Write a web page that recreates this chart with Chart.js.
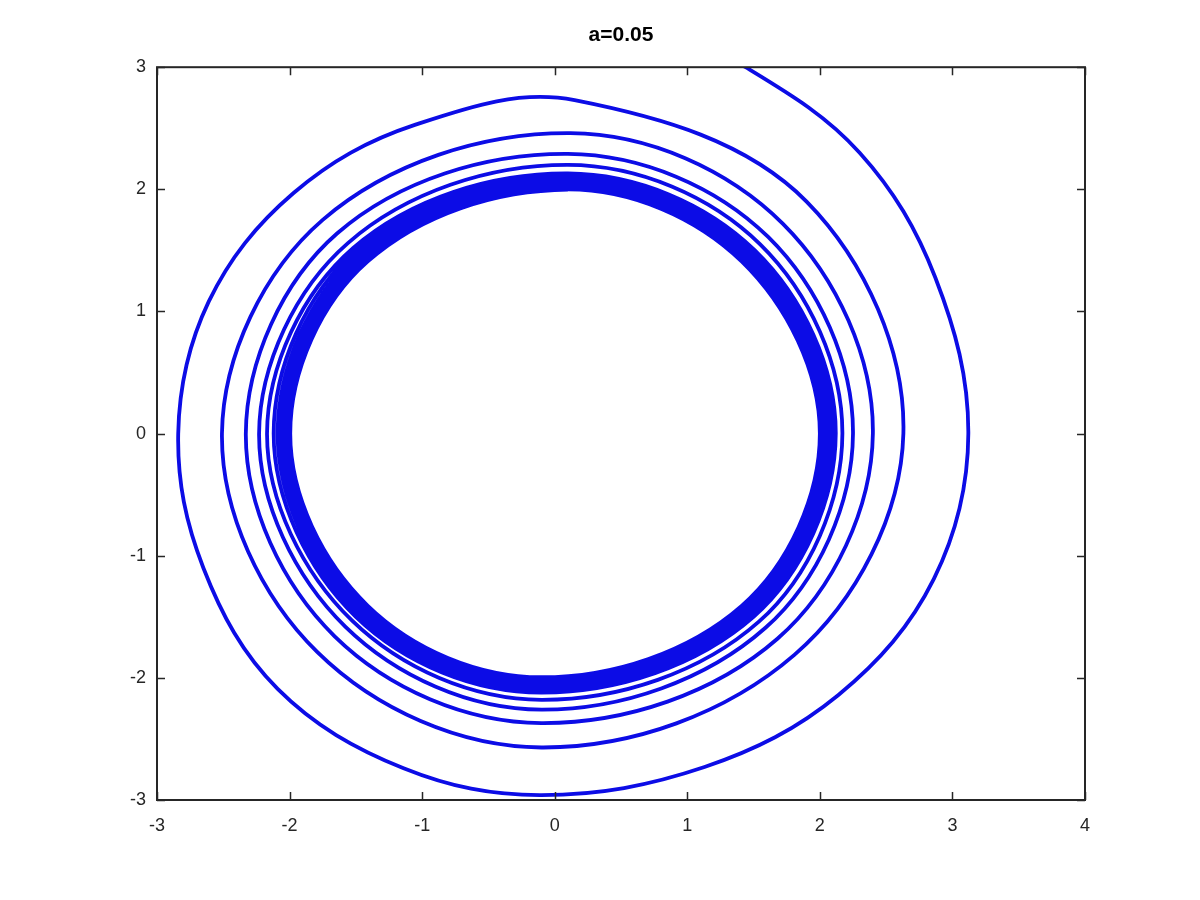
<!doctype html>
<html lang="en">
<head>
    <meta charset="utf-8">
    <title>a=0.05</title>
    <script src="https://cdn.jsdelivr.net/npm/chart.js@4.4.1/dist/chart.umd.min.js"></script>
    <style>
        body { margin: 0; background: #fff; }
        #wrap { width: 1200px; height: 900px; }
    </style>
</head>
<body>
    <div id="wrap">
        <canvas id="myChart" width="1200" height="900"></canvas>
    </div>

    <script>
        var titleText = 'a=0.05';
        var xTicks = [-3, -2, -1, 0, 1, 2, 3, 4];
        var yTicks = [-3, -2, -1, 0, 1, 2, 3];

        // first turn, coming in from above the box
        var entryArc = [
            [0.6, 3.42], [1.44, 3.0], [2.30, 2.30], [2.87, 1.28], [3.12, 0.0],
            [2.86, -1.19], [2.14, -2.14], [1.13, -2.73], [-0.1, -2.96], [-1.14, -2.74],
            [-2.09, -2.09], [-2.65, -1.10], [-2.84, 0.0], [-2.61, 1.08], [-1.97, 1.97], [-1.05, 2.53]
        ];

        // loops still apart from each other (top, UR, right, LR, bottom, LL, left, UL)
        var outerLoops = [
            [0.15, 2.73], [1.90, 1.90], [2.63, 0], [1.81, -1.81], [-0.1, -2.57], [-1.79, -1.79], [-2.51, 0], [-1.75, 1.75],
            [0.12, 2.46], [1.72, 1.72], [2.40, 0], [1.68, -1.68], [-0.1, -2.37], [-1.66, -1.66], [-2.33, 0], [-1.64, 1.64],
            [0.1, 2.29], [1.61, 1.61], [2.25, 0], [1.59, -1.59], [-0.1, -2.26], [-1.58, -1.58], [-2.23, 0], [-1.56, 1.56],
            [0.1, 2.20], [1.55, 1.55], [2.17, 0], [1.54, -1.54], [-0.1, -2.18], [-1.53, -1.53], [-2.17, 0], [-1.52, 1.52]
        ];

        // dense band near the limit cycle
        var innerLoops = [
            [0.1, 2.13], [1.51, 1.50], [2.12, 0], [1.50, -1.50], [-0.1, -2.12], [-1.50, -1.50], [-2.12, 0], [-1.50, 1.50],
            [0.1, 2.10], [1.49, 1.48], [2.10, 0], [1.48, -1.48], [-0.1, -2.09], [-1.48, -1.48], [-2.09, 0], [-1.48, 1.48],
            [0.1, 2.08], [1.47, 1.47], [2.08, 0], [1.47, -1.47], [-0.1, -2.07], [-1.47, -1.46], [-2.07, 0], [-1.46, 1.46],
            [0.1, 2.06], [1.46, 1.45], [2.06, 0], [1.45, -1.45], [-0.1, -2.05], [-1.45, -1.45], [-2.05, 0], [-1.45, 1.45],
            [0.1, 2.05], [1.45, 1.44], [2.05, 0], [1.44, -1.44], [-0.1, -2.04], [-1.44, -1.44], [-2.04, 0], [-1.44, 1.44],
            [0.1, 2.04], [1.44, 1.44], [2.04, 0], [1.44, -1.43], [-0.1, -2.03], [-1.43, -1.43], [-2.03, 0], [-1.43, 1.43],
            [0.1, 2.03], [1.43, 1.43], [2.03, 0], [1.43, -1.42], [-0.1, -2.02], [-1.42, -1.42], [-2.02, 0], [-1.42, 1.42],
            [0.1, 2.02], [1.43, 1.42], [2.02, 0], [1.42, -1.42], [-0.1, -2.01], [-1.42, -1.42], [-2.01, 0], [-1.42, 1.42],
            [0.1, 2.015], [1.42, 1.42], [2.01, 0], [1.42, -1.41], [-0.1, -2.005], [-1.41, -1.41], [-2.005, 0], [-1.41, 1.41],
            [0.1, 2.01], [1.42, 1.41], [2.005, 0], [1.41, -1.41], [-0.1, -2.0], [-1.41, -1.41], [-2.0, 0], [-1.41, 1.41],
            [0.1, 2.0], [1.41, 1.41], [2.0, 0], [1.41, -1.41], [-0.1, -1.995], [-1.41, -1.41], [-1.995, 0], [-1.41, 1.41],
            [0.1, 1.995], [1.41, 1.41]
        ];

        var points = entryArc.concat(outerLoops, innerLoops).map(function (p) {
            return { x: p[0], y: p[1] };
        });
        var lastIdx = points.length - 1;

        var axisColor = '#262626';
        var fontFamily = "'Liberation Sans', Arial, sans-serif";

        // box round the plot with inward ticks on all four sides
        var boxPlugin = {
            id: 'box',
            afterDraw: function (chart) {
                var c = chart.ctx, a = chart.chartArea;
                var xs = chart.scales.x, ys = chart.scales.y;
                var len = 8;
                c.save();
                c.strokeStyle = axisColor;
                c.lineWidth = 1.5;
                c.beginPath();
                xTicks.forEach(function (v) {
                    var px = Math.round(xs.getPixelForValue(v)) + 0.5;
                    c.moveTo(px, a.bottom); c.lineTo(px, a.bottom - len);
                    c.moveTo(px, a.top); c.lineTo(px, a.top + len);
                });
                yTicks.forEach(function (v) {
                    var py = Math.round(ys.getPixelForValue(v)) + 0.5;
                    c.moveTo(a.left, py); c.lineTo(a.left + len, py);
                    c.moveTo(a.right, py); c.lineTo(a.right - len, py);
                });
                c.stroke();
                c.lineWidth = 2;
                c.strokeRect(a.left, a.top, a.right - a.left, a.bottom - a.top);
                c.restore();
            }
        };

        var ctx = document.getElementById('myChart');
        var myChart = new Chart(ctx, {
            type: 'scatter',
            data: {
                datasets: [{
                    data: points,
                    showLine: true,
                    borderColor: 'rgb(12, 12, 230)',
                    borderWidth: 3.8,
                    pointRadius: 0,
                    tension: 0.36,
                    fill: false,
                    // last point only steers the curve, its segment is not drawn
                    segment: {
                        borderColor: function (s) {
                            return s.p1DataIndex === lastIdx ? 'rgba(0,0,0,0)' : undefined;
                        }
                    }
                }]
            },
            options: {
                responsive: false,
                animation: false,
                layout: { padding: { left: 0, right: 115, top: 0, bottom: 0 } },
                plugins: {
                    legend: { display: false },
                    tooltip: { enabled: false },
                    title: {
                        display: true,
                        text: titleText,
                        fullSize: false,
                        color: '#000',
                        font: { family: fontFamily, size: 21, weight: 'bold' },
                        padding: { top: 23, bottom: 19 }
                    }
                },
                scales: {
                    x: {
                        type: 'linear',
                        min: -3,
                        max: 4,
                        afterFit: function (s) { s.height = 100; },
                        grid: { display: false, drawTicks: false },
                        border: { display: false },
                        ticks: {
                            stepSize: 1,
                            padding: 15,
                            color: axisColor,
                            font: { family: fontFamily, size: 18 }
                        }
                    },
                    y: {
                        type: 'linear',
                        min: -3,
                        max: 3,
                        afterFit: function (s) { s.width = 157; },
                        grid: { display: false, drawTicks: false },
                        border: { display: false },
                        ticks: {
                            stepSize: 1,
                            padding: 11,
                            color: axisColor,
                            font: { family: fontFamily, size: 18 }
                        }
                    }
                }
            },
            plugins: [boxPlugin]
        });
    </script>
</body>
</html>
